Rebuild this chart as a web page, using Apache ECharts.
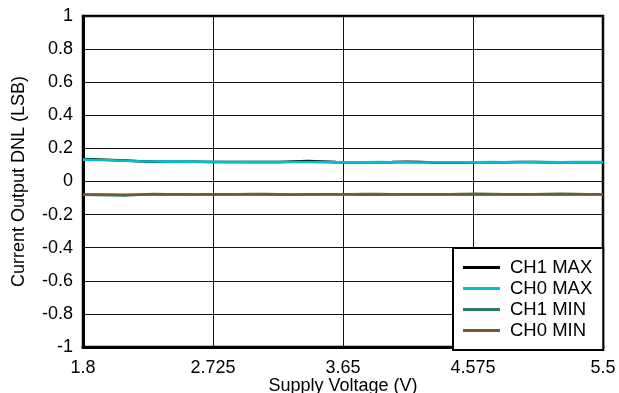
<!DOCTYPE html>
<html>
<head>
<meta charset="utf-8">
<script src="https://cdn.jsdelivr.net/npm/echarts@6/dist/echarts.min.js"></script>
<style>html,body{margin:0;padding:0;background:#fff}#c{width:619px;height:393px}</style>
</head>
<body>
<div id="c"></div>
<script>
const voltage = [1.8,1.9,2.0,2.1,2.2,2.3,2.4,2.5,2.6,2.7,2.8,2.9,3.0,3.1,3.2,3.3,3.4,3.5,3.6,3.7,3.8,3.9,4.0,4.1,4.2,4.3,4.4,4.5,4.6,4.7,4.8,4.9,5.0,5.1,5.2,5.3,5.4,5.5];
const ch1Max = [0.135,0.133,0.130,0.127,0.122,0.120,0.119,0.119,0.119,0.118,0.118,0.118,0.118,0.118,0.118,0.121,0.123,0.121,0.117,0.116,0.116,0.116,0.117,0.119,0.118,0.115,0.115,0.115,0.116,0.116,0.116,0.118,0.118,0.116,0.116,0.116,0.116,0.116];
const ch0Max = [0.132,0.130,0.128,0.125,0.122,0.121,0.120,0.120,0.119,0.119,0.118,0.118,0.117,0.117,0.117,0.118,0.118,0.117,0.116,0.116,0.116,0.117,0.116,0.116,0.115,0.116,0.116,0.116,0.116,0.117,0.116,0.116,0.117,0.117,0.116,0.117,0.117,0.117];
const ch1Min = [-0.080,-0.081,-0.083,-0.084,-0.080,-0.076,-0.078,-0.079,-0.079,-0.078,-0.078,-0.077,-0.076,-0.076,-0.077,-0.079,-0.078,-0.077,-0.077,-0.077,-0.076,-0.076,-0.078,-0.079,-0.078,-0.078,-0.077,-0.076,-0.075,-0.076,-0.077,-0.078,-0.077,-0.076,-0.075,-0.076,-0.077,-0.077];
const ch0Min = [-0.079,-0.079,-0.079,-0.080,-0.079,-0.078,-0.078,-0.078,-0.079,-0.078,-0.078,-0.078,-0.078,-0.079,-0.080,-0.080,-0.079,-0.078,-0.078,-0.079,-0.080,-0.080,-0.079,-0.078,-0.078,-0.078,-0.079,-0.079,-0.079,-0.079,-0.079,-0.079,-0.079,-0.079,-0.079,-0.078,-0.078,-0.078];
const xTickLabels = ['1.8','2.725','3.65','4.575','5.5'];
const xStart = 1.8, xStep = 0.925;
const seriesNames = ['CH1 MAX','CH0 MAX','CH1 MIN','CH0 MIN'];
const seriesColors = ['#000000','#00bfd0','#2e7a58','#76582f'];
const seriesValues = [ch1Max, ch0Max, ch1Min, ch0Min];

const FONT = 'Liberation Sans, Arial, sans-serif';
const chart = echarts.init(document.getElementById('c'), null, {renderer:'canvas'});
const toX = v => (v - xStart) / xStep;

chart.setOption({
  animation: false,
  backgroundColor: '#fff',
  textStyle: {fontFamily: FONT},
  grid: {left: 83, right: 16, top: 16, bottom: 46, show: true, borderColor: '#000', borderWidth: 2.5, backgroundColor: 'transparent', containLabel: false, outerBoundsMode: 'none'},
  legend: {
    orient: 'vertical', left: 453, top: 248,
    data: seriesNames,
    icon: 'rect', itemWidth: 37, itemHeight: 3, itemGap: 2,
    padding: [10, 11, 10, 10],
    backgroundColor: '#fff', borderColor: '#000', borderWidth: 2, borderRadius: 0,
    textStyle: {fontFamily: FONT, fontSize: 18.5, color: '#000', padding: [0,0,0,5]}
  },
  xAxis: {
    type: 'value', min: 0, max: xTickLabels.length - 1, interval: 1,
    name: 'Supply Voltage (V)', nameLocation: 'middle', nameGap: 30, nameMoveOverlap: false,
    nameTextStyle: {fontFamily: FONT, fontSize: 18, color: '#000'},
    axisLine: {show: true, onZero: false, lineStyle: {color: '#000', width: 3}},
    axisTick: {show: false},
    axisLabel: {fontFamily: FONT, fontSize: 18, color: '#000', margin: 12, formatter: v => xTickLabels[Math.round(v)]},
    splitLine: {show: true, lineStyle: {color: '#111', width: 1}}
  },
  yAxis: {
    type: 'value', min: -1, max: 1, interval: 0.2,
    name: 'Current Output DNL (LSB)', nameLocation: 'middle', nameGap: 55, nameMoveOverlap: false,
    nameTextStyle: {fontFamily: FONT, fontSize: 18, color: '#000'},
    axisLine: {show: true, onZero: false, lineStyle: {color: '#000', width: 3}},
    axisTick: {show: false},
    axisLabel: {fontFamily: FONT, fontSize: 18, color: '#000', margin: 10, formatter: v => String(Math.round(v * 10) / 10)},
    splitLine: {show: true, lineStyle: {color: '#111', width: 1}}
  },
  series: seriesNames.map((n, i) => ({
    name: n, type: 'line', showSymbol: false, symbol: 'none',
    color: seriesColors[i],
    lineStyle: {color: seriesColors[i], width: 2.6},
    data: voltage.map((v, k) => [toX(v), seriesValues[i][k]]),
    z: 2 + i
  }))
});
</script>
</body>
</html>
